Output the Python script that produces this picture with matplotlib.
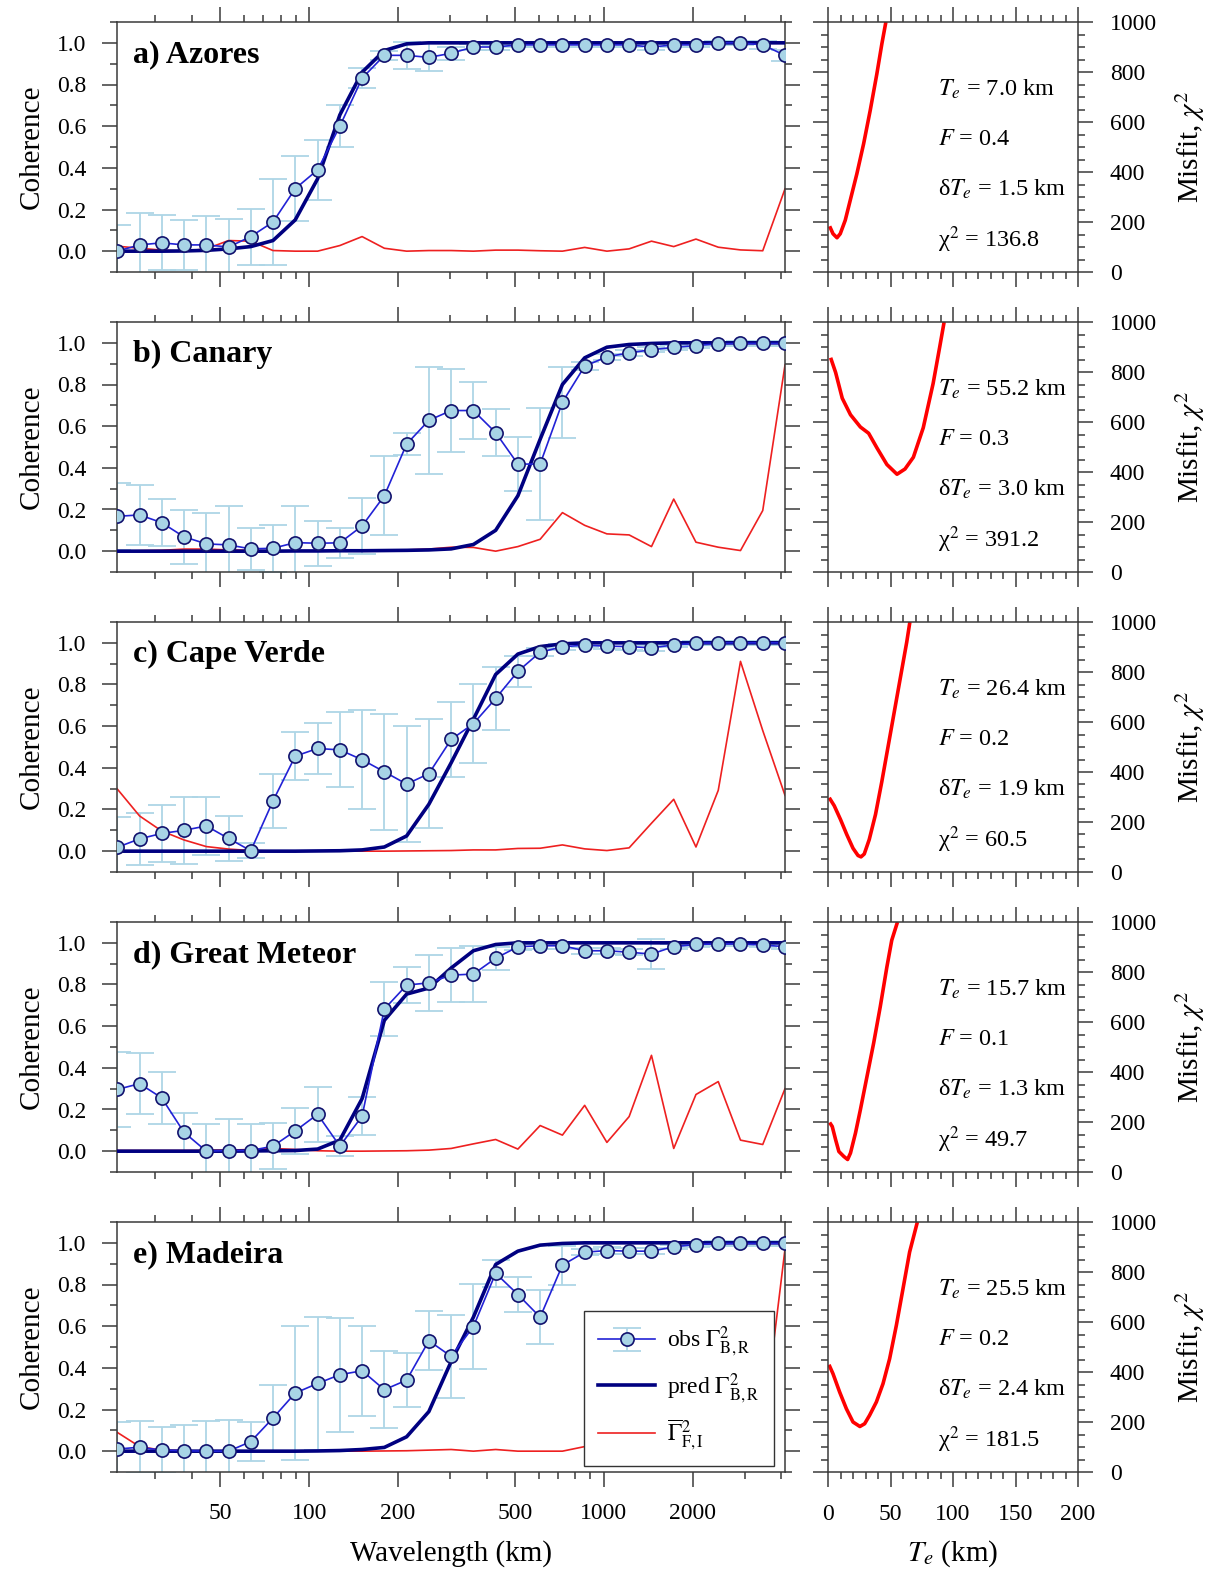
import numpy as np
import matplotlib
matplotlib.use('Agg')
import matplotlib.pyplot as plt
from matplotlib.ticker import FixedLocator, NullFormatter, MultipleLocator

plt.rcParams['font.family'] = ['Liberation Serif', 'DejaVu Serif']
plt.rcParams['mathtext.fontset'] = 'stix'

# wavelength bins (km)
wavelength = [22.3, 26.6, 31.6, 37.6, 44.8, 53.3, 63.4, 75.4, 89.7, 106.8, 127.1,
              151.2, 179.9, 214.1, 254.7, 303.1, 360.6, 429.1, 510.5, 607.4, 722.8,
              860.0, 1023, 1217, 1449, 1724, 2051, 2441, 2904, 3455, 4111]

names = ['a) Azores', 'b) Canary', 'c) Cape Verde', 'd) Great Meteor', 'e) Madeira']

obs_a = [0.00, 0.03, 0.04, 0.03, 0.03, 0.02, 0.07, 0.14, 0.30, 0.39, 0.60, 0.83, 0.94, 0.94, 0.93, 0.95,
         0.98, 0.98, 0.99, 0.99, 0.99, 0.99, 0.99, 0.99, 0.98, 0.99, 0.99, 1.00, 1.00, 0.99, 0.94]
err_a = [0.125, 0.155, 0.132, 0.122, 0.138, 0.136, 0.134, 0.205, 0.157, 0.143, 0.10, 0.047, 0.02, 0.064,
         0.067, 0.032, 0.015, 0.012, 0.012, 0.01, 0.01, 0.01, 0.01, 0.01, 0.015, 0.01, 0.01, 0.01, 0.01, 0.02, 0.025]
pred_a = [0.0, 0.0, 0.0, 0.001, 0.004, 0.011, 0.022, 0.051, 0.15, 0.347, 0.654, 0.859, 0.963, 0.995, 1.0,
          1.0, 1.0, 1.0, 1.0, 1.0, 1.0, 1.0, 1.0, 1.0, 1.0, 1.0, 1.0, 1.0, 1.0, 1.0, 1.0]
red_a = [0.024, 0.014, 0.005, 0.0, 0.011, 0.051, 0.048, 0.003, 0.0, 0.0, 0.027, 0.07, 0.014, 0.0, 0.003, 0.003,
         0.0, 0.005, 0.005, 0.002, 0.0, 0.018, 0.0, 0.011, 0.048, 0.022, 0.058, 0.019, 0.006, 0.002, 0.299]

obs_b = [0.167, 0.174, 0.137, 0.069, 0.035, 0.030, 0.011, 0.014, 0.041, 0.038, 0.040, 0.121, 0.266, 0.514,
         0.628, 0.675, 0.675, 0.569, 0.418, 0.418, 0.715, 0.888, 0.933, 0.952, 0.967, 0.978, 0.987, 0.995,
         0.997, 0.997, 0.997]
err_b = [0.16, 0.145, 0.113, 0.13, 0.147, 0.187, 0.10, 0.114, 0.176, 0.109, 0.073, 0.136, 0.19, 0.053, 0.256,
         0.2, 0.138, 0.113, 0.13, 0.27, 0.17, 0.02, 0.015, 0.015, 0.012, 0.012, 0.01, 0.01, 0.01, 0.01, 0.01]
pred_b = [0.0, 0.0, 0.0, 0.0, 0.0, 0.0, 0.0, 0.0, 0.001, 0.001, 0.002, 0.002, 0.003, 0.004, 0.006, 0.011,
          0.032, 0.10, 0.266, 0.537, 0.80, 0.928, 0.979, 0.992, 0.997, 1.0, 1.0, 1.0, 1.0, 1.0, 1.0]
red_b = [0.0, 0.002, 0.004, 0.01, 0.01, 0.006, 0.004, 0.002, 0.001, 0.001, 0.002, 0.002, 0.004, 0.006, 0.01,
         0.019, 0.018, 0.0, 0.022, 0.057, 0.185, 0.124, 0.083, 0.078, 0.022, 0.25, 0.043, 0.019, 0.003, 0.195, 0.893]

obs_c = [0.018, 0.059, 0.085, 0.10, 0.121, 0.061, 0.002, 0.241, 0.456, 0.493, 0.486, 0.439, 0.381, 0.322,
         0.372, 0.536, 0.612, 0.733, 0.863, 0.955, 0.981, 0.989, 0.984, 0.982, 0.976, 0.990, 0.998, 1.0,
         1.0, 1.0, 1.0]
err_c = [0.148, 0.124, 0.138, 0.16, 0.139, 0.108, 0.035, 0.13, 0.115, 0.123, 0.18, 0.238, 0.278, 0.28, 0.263,
         0.178, 0.188, 0.15, 0.075, 0.02, 0.015, 0.01, 0.015, 0.015, 0.015, 0.01, 0.01, 0.01, 0.01, 0.01, 0.01]
pred_c = [0.0, 0.0, 0.0, 0.0, 0.0, 0.0, 0.0, 0.0, 0.0, 0.001, 0.002, 0.006, 0.02, 0.073, 0.225, 0.424,
          0.633, 0.848, 0.946, 0.982, 0.995, 1.0, 1.0, 1.0, 1.0, 1.0, 1.0, 1.0, 1.0, 1.0, 1.0]
red_c = [0.30, 0.169, 0.097, 0.054, 0.022, 0.01, 0.003, 0.001, 0.0, 0.0, 0.0, 0.0, 0.0, 0.001, 0.002, 0.003,
         0.006, 0.006, 0.013, 0.014, 0.030, 0.011, 0.003, 0.016, 0.134, 0.249, 0.02, 0.292, 0.911, 0.579, 0.268]

obs_d = [0.296, 0.324, 0.256, 0.091, 0.0, 0.003, 0.003, 0.024, 0.097, 0.177, 0.024, 0.168, 0.682, 0.797,
         0.808, 0.845, 0.85, 0.926, 0.981, 0.986, 0.986, 0.962, 0.962, 0.955, 0.946, 0.982, 0.992, 0.995,
         0.995, 0.989, 0.982]
err_d = [0.178, 0.145, 0.126, 0.093, 0.13, 0.15, 0.126, 0.112, 0.109, 0.133, 0.048, 0.09, 0.13, 0.088, 0.134,
         0.131, 0.134, 0.055, 0.015, 0.015, 0.015, 0.015, 0.015, 0.015, 0.074, 0.01, 0.01, 0.01, 0.01, 0.01, 0.01]
pred_d = [0.0, 0.0, 0.0, 0.0, 0.0, 0.0, 0.001, 0.002, 0.003, 0.01, 0.053, 0.252, 0.628, 0.754, 0.783, 0.879,
          0.962, 0.992, 1.0, 1.0, 1.0, 1.0, 1.0, 1.0, 1.0, 1.0, 1.0, 1.0, 1.0, 1.0, 1.0]
red_d = [0.003, 0.003, 0.003, 0.003, 0.004, 0.005, 0.008, 0.013, 0.008, 0.002, 0.0, 0.0, 0.001, 0.002, 0.005,
         0.013, 0.035, 0.056, 0.01, 0.123, 0.077, 0.22, 0.042, 0.166, 0.46, 0.013, 0.272, 0.334, 0.053, 0.032, 0.30]

obs_e = [0.01, 0.019, 0.005, 0.002, 0.0, 0.0, 0.046, 0.159, 0.279, 0.325, 0.367, 0.386, 0.295, 0.341, 0.53,
         0.455, 0.598, 0.854, 0.752, 0.643, 0.893, 0.955, 0.963, 0.96, 0.96, 0.981, 0.992, 0.997, 0.997,
         0.997, 0.997]
err_e = [0.13, 0.124, 0.11, 0.125, 0.146, 0.151, 0.095, 0.157, 0.32, 0.32, 0.273, 0.216, 0.186, 0.13, 0.142,
         0.198, 0.203, 0.065, 0.082, 0.13, 0.093, 0.015, 0.015, 0.015, 0.015, 0.01, 0.01, 0.01, 0.01, 0.01, 0.01]
pred_e = [0.0, 0.0, 0.0, 0.0, 0.0, 0.0, 0.0, 0.0, 0.0, 0.001, 0.003, 0.008, 0.018, 0.069, 0.19, 0.43,
          0.643, 0.896, 0.96, 0.989, 0.997, 1.0, 1.0, 1.0, 1.0, 1.0, 1.0, 1.0, 1.0, 1.0, 1.0]
red_e = [0.091, 0.022, 0.005, 0.002, 0.001, 0.0, 0.0, 0.0, 0.0, 0.0, 0.0, 0.0, 0.001, 0.002, 0.005, 0.008,
         0.0, 0.008, 0.0, 0.0, 0.0, 0.022, 0.03, 0.03, 0.04, 0.03, 0.05, 0.04, 0.03, 0.09, 0.97]

# misfit curves chi^2 vs Te
te_a = [1.3, 4, 7.2, 9.8, 13.8, 17.8, 23.1, 28.5, 33.8, 39.1, 43.1, 46.3]
chi_a = [183, 153, 137, 153, 207, 287, 393, 513, 647, 793, 913, 1000]
te_b = [2.1, 6.1, 11.4, 18, 25.9, 32.5, 39.2, 47.1, 55.2, 61.6, 68.3, 76.2, 84.1, 89.4, 92.9]
chi_b = [857, 798, 695, 629, 580, 555, 496, 430, 391, 412, 459, 577, 754, 901, 1000]
te_c = [1, 5, 10, 15, 20, 24, 26.4, 29, 33, 38, 43, 48, 53, 58, 63, 65.5]
chi_c = [297, 265, 210, 150, 95, 66, 60.5, 72, 130, 230, 360, 500, 640, 780, 920, 1000]
te_d = [1.3, 3.4, 6.1, 8.7, 12.7, 15.7, 18, 22, 25.9, 31.2, 36.5, 41.8, 47.1, 51, 55.6]
chi_d = [198, 182, 129, 82, 62, 50, 76, 156, 249, 382, 515, 661, 820, 927, 1000]
te_e = [0.8, 4, 9.3, 14.7, 20, 25.5, 29.3, 33.3, 38.7, 44, 49.3, 54.7, 60, 65.3, 71.5]
chi_e = [429, 393, 320, 253, 200, 182, 193, 227, 280, 353, 453, 587, 733, 880, 1000]

te_best = ['7.0', '55.2', '26.4', '15.7', '25.5']
f_best = ['0.4', '0.3', '0.2', '0.1', '0.2']
dte_best = ['1.5', '3.0', '1.9', '1.3', '2.4']
chi_best = ['136.8', '391.2', '60.5', '49.7', '181.5']

obs_all = [obs_a, obs_b, obs_c, obs_d, obs_e]
err_all = [err_a, err_b, err_c, err_d, err_e]
pred_all = [pred_a, pred_b, pred_c, pred_d, pred_e]
red_all = [red_a, red_b, red_c, red_d, red_e]
te_all = [te_a, te_b, te_c, te_d, te_e]
chi_all = [chi_a, chi_b, chi_c, chi_d, chi_e]

W, H = 1212, 1572
fig = plt.figure(figsize=(W / 100, H / 100), dpi=100)

spine_col = '#3a3a3a'
major_x = [50, 100, 200, 500, 1000, 2000]
minor_x = [30, 40, 60, 70, 80, 90, 300, 400, 600, 700, 800, 900, 3000, 4000]

for k in range(5):
    top = 22 + 300 * k
    b = 1 - (top + 250) / H
    axl = fig.add_axes([117 / W, b, 668 / W, 250 / H])
    axr = fig.add_axes([828 / W, b, 250 / W, 250 / H])
    last = (k == 4)

    eb = axl.errorbar(wavelength, obs_all[k], yerr=err_all[k], fmt='none', ecolor='#aed6e6',
                      elinewidth=1.3, capsize=10, capthick=1.3, zorder=1)
    lr, = axl.plot(wavelength, red_all[k], color='#ee2020', lw=1.2, zorder=2)
    lp, = axl.plot(wavelength, pred_all[k], color='#000080', lw=2.6, zorder=3)
    lo, = axl.plot(wavelength, obs_all[k], color='#2222d6', lw=1.2, marker='o', ms=9.5,
                   mfc='#a8d4e6', mec='#12126e', mew=1.2, zorder=4)

    axl.set_xscale('log')
    axl.set_xlim(wavelength[0], wavelength[-1])
    axl.set_ylim(-0.1, 1.1)
    axl.xaxis.set_major_locator(FixedLocator(major_x))
    axl.xaxis.set_minor_locator(FixedLocator(minor_x))
    axl.xaxis.set_minor_formatter(NullFormatter())
    axl.set_xticklabels([str(v) for v in major_x])
    axl.set_yticks([0.0, 0.2, 0.4, 0.6, 0.8, 1.0])
    axl.set_yticklabels(['0.0', '0.2', '0.4', '0.6', '0.8', '1.0'])
    axl.yaxis.set_minor_locator(MultipleLocator(0.1))
    axl.tick_params(which='both', direction='out', top=True, right=True, color=spine_col,
                    width=1.1, labelsize=17, labelbottom=last, pad=11)
    axl.tick_params(which='major', length=11)
    axl.tick_params(which='minor', length=5)
    for s in axl.spines.values():
        s.set_color(spine_col)
        s.set_linewidth(1.1)
    axl.set_ylabel('Coherence', fontsize=21, labelpad=9)
    axl.text(0.024, 0.87, names[k], transform=axl.transAxes, fontsize=23,
             fontweight='bold', va='center', ha='left')
    if last:
        axl.set_xlabel('Wavelength (km)', fontsize=21, labelpad=12)
        leg = axl.legend([(eb, lo), lp, lr],
                         [r'obs $\Gamma^2_{\rm B,R}$', r'pred $\Gamma^2_{\rm B,R}$',
                          r'$\overline{\Gamma}^2_{\rm F,I}$'],
                         loc='lower right', bbox_to_anchor=(0.983, 0.024), borderaxespad=0,
                         fontsize=17, fancybox=False, framealpha=1, edgecolor='#333333',
                         handlelength=2.4, handletextpad=0.5, borderpad=0.6, labelspacing=0.5)
        leg.get_frame().set_linewidth(1.0)

    # misfit panel
    axr.plot(te_all[k], chi_all[k], color='#ff0000', lw=2.6, solid_capstyle='butt')
    axr.set_xlim(0, 200)
    axr.set_ylim(0, 1000)
    axr.xaxis.set_major_locator(MultipleLocator(50))
    axr.xaxis.set_minor_locator(MultipleLocator(10))
    axr.yaxis.set_major_locator(MultipleLocator(200))
    axr.yaxis.set_minor_locator(MultipleLocator(50))
    axr.tick_params(which='both', direction='out', top=True, right=True, left=True,
                    labelleft=False, labelright=True, labelbottom=last, color=spine_col,
                    width=1.1, labelsize=17, pad=12)
    axr.tick_params(which='major', length=11)
    axr.tick_params(which='minor', length=5)
    for s in axr.spines.values():
        s.set_color(spine_col)
        s.set_linewidth(1.1)
    axr.yaxis.set_label_position('right')
    axr.set_ylabel(r'Misfit, $\chi^2$', fontsize=21, labelpad=12)
    lines = [r'$T_e$ = ' + te_best[k] + ' km',
             r'$F$ = ' + f_best[k],
             r'δ$T_e$ = ' + dte_best[k] + ' km',
             r'χ$^2$ = ' + chi_best[k]]
    for j, t in enumerate(lines):
        axr.text(0.44, 0.73 - 0.2 * j, t, transform=axr.transAxes, fontsize=17.5,
                 va='center', ha='left')
    if last:
        axr.set_xlabel(r'$T_e$ (km)', fontsize=21, labelpad=10)

fig.savefig('out.png', dpi=100)
